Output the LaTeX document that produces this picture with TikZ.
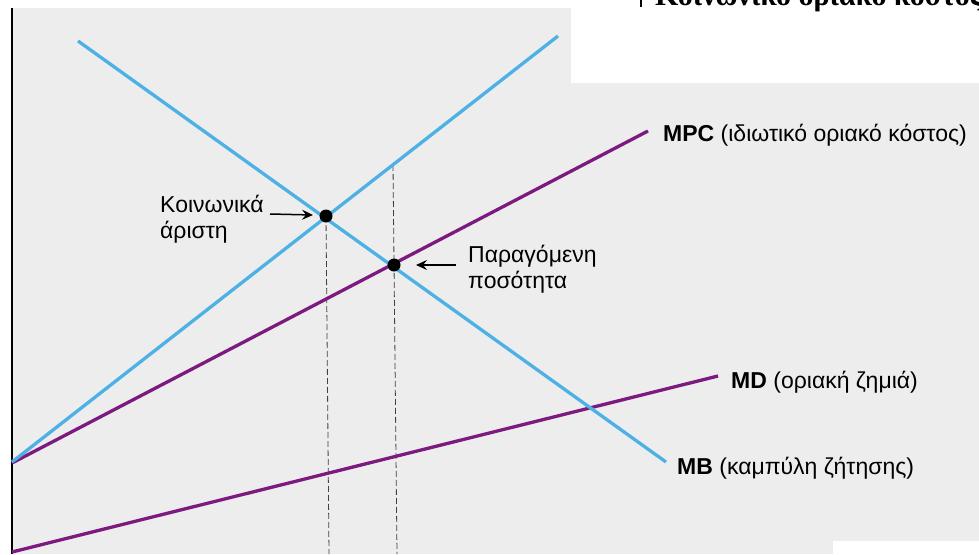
\documentclass[tikz,border=0pt]{standalone}
\usepackage{fontspec}
\setmainfont{Liberation Sans}
\newfontfamily\serifb{Liberation Serif}
\usetikzlibrary{arrows.meta}
\definecolor{bgray}{HTML}{EDEDED}
\definecolor{cblue}{HTML}{4DB1E6}
\definecolor{cpurp}{HTML}{7D1A80}
\tikzset{
  bluecurve/.style={draw=cblue, line width=3.3pt},
  purpcurve/.style={draw=cpurp, line width=3.3pt},
  guide/.style={draw=black!75, line width=0.8pt, dash pattern=on 6pt off 3pt},
  pointer/.style={draw=black, line width=1.5pt, -{Stealth[length=11pt,width=10pt,inset=4pt]}},
  lbl/.style={font=\fontsize{23}{26}\selectfont, inner sep=0pt, anchor=base west, align=left},
  eqdot/.style={circle, fill=black, inner sep=0pt, minimum size=13pt}
}
\begin{document}
\begin{tikzpicture}[x=1pt,y=-1pt]
\useasboundingbox (0,0) rectangle (979,554);
\fill[white] (0,0) rectangle (979,554);
\fill[bgray] (12,8) rectangle (979,554);
\fill[white] (571,0) rectangle (979,83);
\fill[white] (833,541) rectangle (979,554);
% axis
\draw[black, line width=2pt] (12,8) -- (12,554);
% cut-off heading
\draw[black, line width=1.6pt] (641,0) -- (641,7);
\node[inner sep=0pt, anchor=base west, font=\serifb\bfseries\fontsize{30}{30}\selectfont] (head) at (655,5.5) {Κοινωνικό οριακό κόστος};
% curves
\coordinate (mbA) at (78,41);
\coordinate (mbB) at (666,462);
\coordinate (msA) at (12,462);
\coordinate (msB) at (558,36);
\coordinate (mpA) at (12,463);
\coordinate (mpB) at (648,131);
\coordinate (mdA) at (12,552);
\coordinate (mdB) at (718,376);
% points
\coordinate (p1) at (326,216);
\coordinate (p2) at (394,265);
\coordinate (g2) at (393,165);
\coordinate (b1) at (329,554);
\coordinate (b2) at (397,554);
\draw[guide] (p1) -- (b1);
\draw[guide] (g2) -- (b2);
\draw[purpcurve] (mdA) -- (mdB);
\draw[purpcurve] (mpA) -- (mpB);
\draw[bluecurve] (msA) -- (msB);
\draw[bluecurve] (mbA) -- (mbB);
\node[eqdot] (d1) at (p1) {};
\node[eqdot] (d2) at (p2) {};
% labels
\node[lbl] (soc) at (160,238) {Κοινωνικά\\άριστη};
\node[lbl] (prod) at (468,288) {Παραγόμενη\\ποσότητα};
\coordinate (a1) at (270,214);
\coordinate (a2) at (456,265);
\draw[pointer] (a1) -- (313,215);
\draw[pointer] (a2) -- (416,265);
\node[lbl] (mpc) at (663,141) {\textbf{MPC} (ιδιωτικό οριακό κόστος)};
\node[lbl] (md) at (731,388) {\textbf{MD} (οριακή ζημιά)};
\node[lbl] (mb) at (677,474) {\textbf{MB} (καμπύλη ζήτησης)};
\end{tikzpicture}
\end{document}
